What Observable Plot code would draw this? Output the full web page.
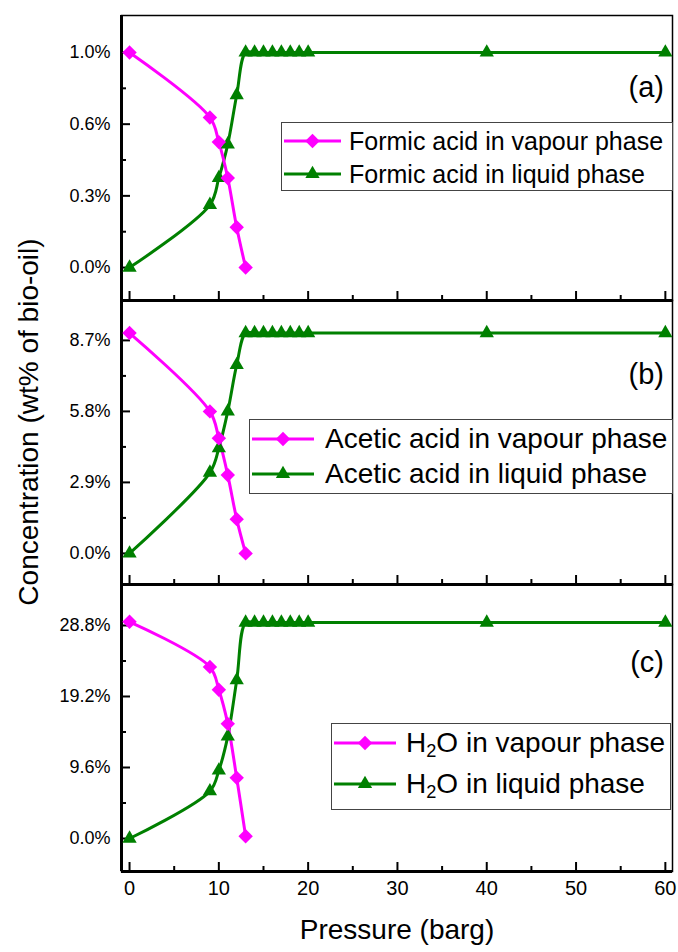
<!DOCTYPE html>
<html>
<head>
<meta charset="utf-8">
<script src="https://cdn.jsdelivr.net/npm/d3@7"></script>
<script src="https://cdn.jsdelivr.net/npm/@observablehq/plot@0.6"></script>
<style>
  body { margin: 0; background: #fff; }
  #chart { position: relative; width: 678px; height: 952px; font-family: "Liberation Sans", Arial, sans-serif; color: #000; }
  .panel { position: absolute; left: 0; }
  .legend { position: absolute; border: 1px solid #444; background: #fff; box-sizing: border-box; }
  .item { position: absolute; left: 0; display: flex; align-items: center; white-space: nowrap; }
  .item svg { display: block; }
  .tag { position: absolute; font-size: 29px; line-height: 1; }
  .ytitle { position: absolute; font-size: 28px; white-space: nowrap; transform: translate(-50%, -50%) rotate(-90deg); }
  .xtitle { position: absolute; font-size: 28px; white-space: nowrap; transform: translateX(-50%); }
</style>
</head>
<body>
<div id="chart"></div>
<script>
// Pressure levels (barg) at which each phase was sampled
const pressureVapour = [0, 9, 10, 11, 12, 13];
const pressureLiquid = [0, 9, 10, 11, 12, 13, 14, 15, 16, 17, 18, 19, 20, 40, 60];

// Formic acid (wt% of bio-oil)
const formicVapour = [0.96, 0.67, 0.56, 0.40, 0.18, 0.0];
const formicLiquid = [0.0, 0.28, 0.40, 0.55, 0.77, 0.96, 0.96, 0.96, 0.96, 0.96, 0.96, 0.96, 0.96, 0.96, 0.96];

// Acetic acid (wt% of bio-oil)
const aceticVapour = [9.0, 5.8, 4.7, 3.2, 1.4, 0.0];
const aceticLiquid = [0.0, 3.3, 4.3, 5.8, 7.7, 9.0, 9.0, 9.0, 9.0, 9.0, 9.0, 9.0, 9.0, 9.0, 9.0];

// Water (wt% of bio-oil)
const waterVapour = [29.3, 23.2, 20.1, 15.5, 8.2, 0.3];
const waterLiquid = [0.0, 6.4, 9.2, 13.8, 21.4, 29.2, 29.2, 29.2, 29.2, 29.2, 29.2, 29.2, 29.2, 29.2, 29.2];

// Axis ticks and their labels
const xTicks = [0, 10, 20, 30, 40, 50, 60];
const xMinorTicks = [5, 15, 25, 35, 45, 55];
const formicTicks = [0, 0.32, 0.64, 0.96];
const formicTickLabels = ["0.0%", "0.3%", "0.6%", "1.0%"];
const formicMinorTicks = [0.16, 0.48, 0.8];
const aceticTicks = [0, 2.9, 5.8, 8.7];
const aceticTickLabels = ["0.0%", "2.9%", "5.8%", "8.7%"];
const aceticMinorTicks = [1.45, 4.35, 7.25];
const waterTicks = [0, 9.6, 19.2, 28.8];
const waterTickLabels = ["0.0%", "9.6%", "19.2%", "28.8%"];
const waterMinorTicks = [4.8, 14.4, 24.0];

const MAGENTA = "#ff00ff";
const GREEN = "#008000";
const FONT = "'Liberation Sans', Arial, sans-serif";
const xDomain = [-0.9, 60.8];

const chart = document.getElementById("chart");

function rows(px, values) {
  return px.map((p, i) => ({pressure: p, value: values[i]}));
}

function panel({top, height, marginTop, marginBottom, yDomain, yTicks, yLabels, yMinor, vapour, liquid, showX}) {
  const vap = rows(pressureVapour, vapour);
  const liq = rows(pressureLiquid, liquid);
  const svg = Plot.plot({
    width: 678,
    height,
    marginLeft: 121,
    marginRight: 6,
    marginTop,
    marginBottom,
    x: {domain: xDomain},
    y: {domain: yDomain},
    style: {fontFamily: FONT, fontSize: "18px", color: "#000", background: "transparent", overflow: "visible"},
    marks: [
      Plot.axisX({ticks: xTicks, tickSize: -9, strokeWidth: 2, text: null, label: null}),
      Plot.axisX({ticks: xMinorTicks, tickSize: -5, strokeWidth: 2, text: null, label: null}),
      Plot.axisY({ticks: yTicks, tickSize: -9, strokeWidth: 2, text: null, label: null}),
      Plot.axisY({ticks: yMinor, tickSize: -5, strokeWidth: 2, text: null, label: null}),
      Plot.axisY({ticks: yTicks, tickSize: 0, tickPadding: 11, label: null, fontSize: 18,
                  tickFormat: (d, i) => yLabels[i]}),
      showX ? Plot.axisX({ticks: xTicks, tickSize: 0, tickPadding: 9, label: null, fontSize: 20}) : null,
      Plot.frame({stroke: "#000", strokeWidth: 1.5}),
      Plot.ruleX([xDomain[0]], {stroke: "#000", strokeWidth: 3}),
      Plot.ruleY([yDomain[0]], {stroke: "#000", strokeWidth: 3}),
      Plot.line(liq, {x: "pressure", y: "value", stroke: GREEN, strokeWidth: 3, curve: "catmull-rom"}),
      Plot.line(vap, {x: "pressure", y: "value", stroke: MAGENTA, strokeWidth: 3, curve: "catmull-rom"}),
      Plot.dot(liq, {x: "pressure", y: "value", symbol: "triangle", fill: GREEN, stroke: "none", r: 5.3}),
      Plot.dot(vap, {x: "pressure", y: "value", symbol: "diamond2", fill: MAGENTA, stroke: "none", r: 6.5})
    ]
  });
  svg.classList.add("panel");
  svg.style.top = top + "px";
  // pin tick label sizes on the text elements themselves
  svg.querySelectorAll('g[aria-label="y-axis tick label"] text').forEach((t) => {
    t.style.fontSize = "18px";
    t.style.fontFamily = FONT;
  });
  svg.querySelectorAll('g[aria-label="x-axis tick label"] text').forEach((t) => {
    t.style.fontSize = "20px";
    t.style.fontFamily = FONT;
  });
  chart.appendChild(svg);
}

panel({top: 0, height: 300, marginTop: 15, marginBottom: 0,
       yDomain: [-0.147, 1.125], yTicks: formicTicks, yLabels: formicTickLabels, yMinor: formicMinorTicks,
       vapour: formicVapour, liquid: formicLiquid, showX: false});
panel({top: 300, height: 284, marginTop: 0, marginBottom: 0,
       yDomain: [-1.27, 10.33], yTicks: aceticTicks, yLabels: aceticTickLabels, yMinor: aceticMinorTicks,
       vapour: aceticVapour, liquid: aceticLiquid, showX: false});
panel({top: 584, height: 368, marginTop: 0, marginBottom: 81,
       yDomain: [-4.46, 34.34], yTicks: waterTicks, yLabels: waterTickLabels, yMinor: waterMinorTicks,
       vapour: waterVapour, liquid: waterLiquid, showX: true});

// Legend swatch: line segment with the series marker in its middle
function swatch(color, symbol, r, w) {
  const path = d3.symbol(symbol, Math.PI * r * r)();
  return `<svg width="${w}" height="20" viewBox="0 0 ${w} 20">
    <line x1="0" x2="${w}" y1="10" y2="10" stroke="${color}" stroke-width="3"/>
    <path d="${path}" transform="translate(${w / 2},10)" fill="${color}"/></svg>`;
}

function legend({left, top, width, height, rowsY, sw, textX, fontSize, labels}) {
  const box = document.createElement("div");
  box.className = "legend";
  Object.assign(box.style, {left: left + "px", top: top + "px", width: width + "px", height: height + "px"});
  const defs = [[MAGENTA, d3.symbolDiamond2, 6.5], [GREEN, d3.symbolTriangle, 5.3]];
  labels.forEach((label, i) => {
    const item = document.createElement("div");
    item.className = "item";
    item.style.top = (rowsY[i] - top - 16) + "px";
    item.style.height = "32px";
    item.style.left = "2px";
    item.style.fontSize = fontSize + "px";
    item.innerHTML = swatch(defs[i][0], defs[i][1], defs[i][2], sw) +
      `<span style="margin-left:${textX - left - 3 - sw}px">${label}</span>`;
    box.appendChild(item);
  });
  chart.appendChild(box);
}

const SUB2 = "H<sub style='font-size:0.65em;vertical-align:-0.3em;line-height:0'>2</sub>O";

legend({left: 281, top: 122, width: 392, height: 69, rowsY: [140, 173], sw: 57, textX: 349, fontSize: 25,
        labels: ["Formic acid in vapour phase", "Formic acid in liquid phase"]});
legend({left: 249, top: 419, width: 424, height: 75, rowsY: [438, 473], sw: 62, textX: 325, fontSize: 28,
        labels: ["Acetic acid in vapour phase", "Acetic acid in liquid phase"]});
legend({left: 331, top: 723, width: 340, height: 87, rowsY: [742, 783], sw: 62, textX: 406, fontSize: 28,
        labels: [SUB2 + " in vapour phase", SUB2 + " in liquid phase"]});

// Panel tags
[["(a)", 88], ["(b)", 375], ["(c)", 663]].forEach(([t, y]) => {
  const d = document.createElement("div");
  d.className = "tag";
  d.textContent = t;
  d.style.right = (678 - 664) + "px";
  d.style.top = (y - 15) + "px";
  chart.appendChild(d);
});

// Axis titles
const yt = document.createElement("div");
yt.className = "ytitle";
yt.textContent = "Concentration (wt% of bio-oil)";
yt.style.left = "29px";
yt.style.top = "422px";
chart.appendChild(yt);

const xt = document.createElement("div");
xt.className = "xtitle";
xt.textContent = "Pressure (barg)";
xt.style.left = "397px";
xt.style.top = "914px";
chart.appendChild(xt);
</script>
</body>
</html>
